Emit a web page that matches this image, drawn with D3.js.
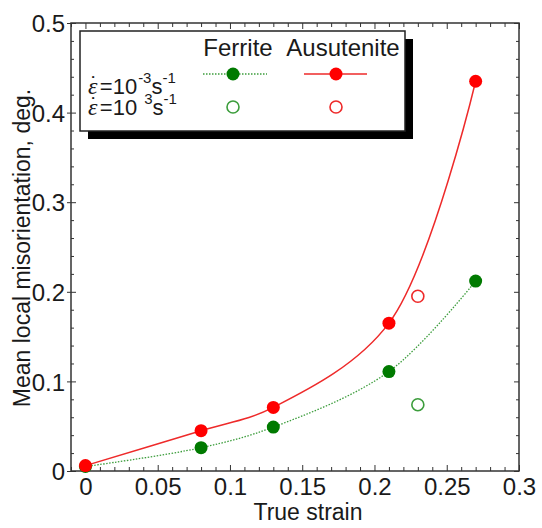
<!DOCTYPE html>
<html>
<head>
<meta charset="utf-8">
<script src="https://cdn.jsdelivr.net/npm/d3@7"></script>
<style>
  body { margin: 0; background: #fff; }
  svg { display: block; }
  text { font-family: "Liberation Sans", Arial, sans-serif; fill: #1a1a1a; }
</style>
</head>
<body>
<svg id="chart" width="542" height="528"></svg>
<script>
// true strain values
const strain = [0, 0.08, 0.13, 0.21, 0.27]
// mean local misorientation, strain rate 10^-3 s^-1
const ferriteSlow = [0.005, 0.026, 0.049, 0.111, 0.212]
const austeniteSlow = [0.006, 0.045, 0.071, 0.165, 0.435]
// strain rate 10^3 s^-1 (single point each)
const fastStrain = [0.23]
const ferriteFast = [0.074]
const austeniteFast = [0.195]

const xMajor = [0, 0.05, 0.1, 0.15, 0.2, 0.25, 0.3]
const yMajor = [0, 0.1, 0.2, 0.3, 0.4, 0.5]

const green = '#007a00', greenLine = '#3c9d3c'
const red = '#ff0000', redLine = '#ee2a2a'

const svg = d3.select('#chart')
const pLeft = 71, pRight = 519, pTop = 23, pBottom = 471

const x = d3.scaleLinear().domain([-0.01, 0.3]).range([pLeft, pRight])
const y = d3.scaleLinear().domain([0, 0.5]).range([pBottom, pTop])

const fmt = d3.format('.2~f')
const xMinor = d3.range(-0.01, 0.3001, 0.01).map(v => +v.toFixed(2)).filter(v => !xMajor.includes(v))
const yMinor = d3.range(0.02, 0.5, 0.02).map(v => +v.toFixed(2)).filter(v => !yMajor.includes(v))

function styleAxis(g) {
	g.select('.domain').remove()
	g.selectAll('line').attr('stroke', '#333').attr('stroke-width', 1)
	g.selectAll('text').attr('font-size', 24).attr('fill', '#1a1a1a')
		.attr('font-family', '"Liberation Sans", Arial, sans-serif')
}

// bottom axis: ticks pointing in
svg.append('g').attr('transform', `translate(0,${pBottom})`)
	.call(d3.axisBottom(x).tickValues(xMajor).tickFormat(fmt).tickSize(-6).tickPadding(7))
	.call(styleAxis)
svg.append('g').attr('transform', `translate(0,${pBottom})`)
	.call(d3.axisBottom(x).tickValues(xMinor).tickFormat('').tickSize(-4))
	.call(styleAxis)
// top axis
svg.append('g').attr('transform', `translate(0,${pTop})`)
	.call(d3.axisTop(x).tickValues(xMajor).tickFormat('').tickSize(-6))
	.call(styleAxis)
svg.append('g').attr('transform', `translate(0,${pTop})`)
	.call(d3.axisTop(x).tickValues(xMinor).tickFormat('').tickSize(-4))
	.call(styleAxis)
// left axis: majors cross the line
svg.append('g').attr('transform', `translate(${pLeft},0)`)
	.call(d3.axisLeft(y).tickValues(yMajor).tickFormat(fmt).tickSize(4).tickPadding(2))
	.call(styleAxis)
	.selectAll('text').attr('dy', '0.36em')
svg.append('g').attr('transform', `translate(${pLeft},0)`)
	.call(d3.axisRight(y).tickValues(yMajor).tickFormat('').tickSize(5))
	.call(styleAxis)
svg.append('g').attr('transform', `translate(${pLeft},0)`)
	.call(d3.axisRight(y).tickValues(yMinor).tickFormat('').tickSize(3))
	.call(styleAxis)
// right axis
svg.append('g').attr('transform', `translate(${pRight},0)`)
	.call(d3.axisLeft(y).tickValues(yMajor).tickFormat('').tickSize(5))
	.call(styleAxis)
svg.append('g').attr('transform', `translate(${pRight},0)`)
	.call(d3.axisLeft(y).tickValues(yMinor).tickFormat('').tickSize(3))
	.call(styleAxis)

svg.append('rect')
	.attr('x', pLeft).attr('y', pTop)
	.attr('width', pRight - pLeft).attr('height', pBottom - pTop)
	.attr('fill', 'none').attr('stroke', '#333').attr('stroke-width', 1.5)

// axis titles
svg.append('text').attr('x', 308).attr('y', 520)
	.attr('text-anchor', 'middle').attr('font-size', 23)
	.text('True strain')
svg.append('text')
	.attr('transform', 'translate(30,248) rotate(-90)')
	.attr('text-anchor', 'middle').attr('font-size', 23)
	.text('Mean local misorientation, deg.')

// fitted curves
const line = d3.line().x(d => x(d[0])).y(d => y(d[1])).curve(d3.curveCatmullRom.alpha(0.5))
const ferr = strain.map((s, i) => [s, ferriteSlow[i]])
const aust = strain.map((s, i) => [s, austeniteSlow[i]])

svg.append('path').datum(ferr).attr('d', line)
	.attr('fill', 'none').attr('stroke', greenLine).attr('stroke-width', 1.3)
	.attr('stroke-dasharray', '1.5,1.5')
svg.append('path').datum(aust).attr('d', line)
	.attr('fill', 'none').attr('stroke', redLine).attr('stroke-width', 1.5)

const r = 6.5
svg.append('g').selectAll('circle').data(ferr).join('circle')
	.attr('cx', d => x(d[0])).attr('cy', d => y(d[1])).attr('r', r).attr('fill', green)
svg.append('g').selectAll('circle').data(aust).join('circle')
	.attr('cx', d => x(d[0])).attr('cy', d => y(d[1])).attr('r', r).attr('fill', red)

svg.append('g').selectAll('circle').data(fastStrain.map((s, i) => [s, ferriteFast[i]])).join('circle')
	.attr('cx', d => x(d[0])).attr('cy', d => y(d[1])).attr('r', r - 0.5)
	.attr('fill', 'none').attr('stroke', greenLine).attr('stroke-width', 1.6)
svg.append('g').selectAll('circle').data(fastStrain.map((s, i) => [s, austeniteFast[i]])).join('circle')
	.attr('cx', d => x(d[0])).attr('cy', d => y(d[1])).attr('r', r - 0.5)
	.attr('fill', 'none').attr('stroke', redLine).attr('stroke-width', 1.6)

// legend with drop shadow
const lg = svg.append('g')
lg.append('rect').attr('x', 88).attr('y', 39).attr('width', 325).attr('height', 100).attr('fill', '#000')
lg.append('rect').attr('x', 80).attr('y', 31).attr('width', 325).attr('height', 100)
	.attr('fill', '#fff').attr('stroke', '#222').attr('stroke-width', 1.5)

lg.append('text').attr('x', 238).attr('y', 56).attr('text-anchor', 'middle').attr('font-size', 24).text('Ferrite')
lg.append('text').attr('x', 343).attr('y', 56).attr('text-anchor', 'middle').attr('font-size', 24).text('Ausutenite')

// strain-rate labels: epsilon with dot, then 10^n s^-1
function rateLabel(yy, sign) {
	const t = lg.append('text').attr('x', 88).attr('y', yy).attr('font-size', 22)
	t.append('tspan').attr('font-size', 24)
		.attr('font-family', '"Liberation Serif", "Times New Roman", serif')
		.attr('font-style', 'italic').text('\u03B5')
	t.append('tspan').attr('dx', -7).attr('dy', -2).text('\u02D9')
	t.append('tspan').attr('dx', 2).attr('dy', 2).text('=10')
	t.append('tspan').attr('font-size', 15).attr('dy', -11).attr('dx', sign ? 1 : 7).text(sign ? '-3' : '3')
	t.append('tspan').attr('dy', 11).text('s')
	t.append('tspan').attr('font-size', 15).attr('dy', -11).text('-1')
}
rateLabel(94, true)
rateLabel(115, false)

lg.append('line').attr('x1', 203).attr('x2', 267).attr('y1', 74).attr('y2', 74)
	.attr('stroke', greenLine).attr('stroke-width', 1.3).attr('stroke-dasharray', '1.5,1.5')
lg.append('circle').attr('cx', 233).attr('cy', 74).attr('r', r).attr('fill', green)
lg.append('line').attr('x1', 304).attr('x2', 367).attr('y1', 74).attr('y2', 74)
	.attr('stroke', redLine).attr('stroke-width', 1.5)
lg.append('circle').attr('cx', 336).attr('cy', 74).attr('r', r).attr('fill', red)
lg.append('circle').attr('cx', 233).attr('cy', 107).attr('r', r - 0.5)
	.attr('fill', 'none').attr('stroke', greenLine).attr('stroke-width', 1.6)
lg.append('circle').attr('cx', 336).attr('cy', 107).attr('r', r - 0.5)
	.attr('fill', 'none').attr('stroke', redLine).attr('stroke-width', 1.6)
</script>
</body>
</html>
